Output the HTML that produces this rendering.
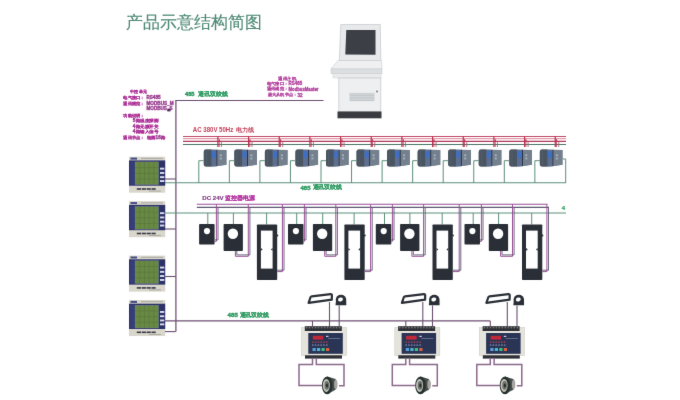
<!DOCTYPE html>
<html><head><meta charset="utf-8"><style>
html,body{margin:0;padding:0;background:#fff;}
body{width:680px;height:400px;overflow:hidden;}
svg{display:block;font-family:"Liberation Sans",sans-serif;}
</style></head><body>
<svg width="680" height="400" viewBox="0 0 680 400">
<defs><filter id="bl" x="0" y="0" width="680" height="400" filterUnits="userSpaceOnUse" color-interpolation-filters="sRGB"><feConvolveMatrix order="3" kernelMatrix="0.00524 0.06192 0.00524 0.06192 0.73137 0.06192 0.00524 0.06192 0.00524" edgeMode="duplicate" preserveAlpha="true"/></filter></defs>
<rect width="680" height="400" fill="#ffffff"/>
<g filter="url(#bl)">
<rect width="680" height="400" fill="#ffffff"/>
<text transform="translate(126.3,28.3) scale(0.8300)" font-size="20" fill="#4f8a76" text-anchor="start" font-weight="normal" textLength="163.37" lengthAdjust="spacingAndGlyphs" stroke="#4f8a76" stroke-width="0.17" >产品示意结构简图</text>
<polygon points="340.8,24.5 380.3,24.5 380.8,60.5 339.3,60.5" fill="#e7e9eb" stroke="#c9cdd0" stroke-width="0.8"/>
<polygon points="346.3,30 375.5,30 375.5,54.8 345.3,54.4" fill="#3d3f47"/>
<polygon points="338,60.5 381.5,60.5 382,69 331,69" fill="#eef0f1" stroke="#c8ccd0" stroke-width="0.6"/>
<rect x="331.00" y="69.00" width="51.00" height="4.80" fill="#dcdfe2" stroke="#c3c7cb" stroke-width="0.5"/>
<rect x="333.00" y="73.80" width="48.00" height="4.20" fill="#e9ebed" stroke="#cdd1d4" stroke-width="0.5"/>
<rect x="338.80" y="78.00" width="42.00" height="33.50" fill="#edeff0" stroke="#c8ccd0" stroke-width="0.8"/>
<rect x="349.00" y="92.80" width="26.00" height="8.40" fill="#dde0e2" />
<line x1="350" y1="94.0" x2="374" y2="94.0" stroke="#b5b9be" stroke-width="0.7" />
<line x1="350" y1="95.6" x2="374" y2="95.6" stroke="#b5b9be" stroke-width="0.7" />
<line x1="350" y1="97.2" x2="374" y2="97.2" stroke="#b5b9be" stroke-width="0.7" />
<line x1="350" y1="98.8" x2="374" y2="98.8" stroke="#b5b9be" stroke-width="0.7" />
<line x1="350" y1="100.4" x2="374" y2="100.4" stroke="#b5b9be" stroke-width="0.7" />
<circle cx="377" cy="91.6" r="1" fill="#7a7e86"/>
<rect x="337.50" y="111.50" width="44.00" height="6.80" fill="#3a3b40" />
<text transform="translate(130.4,93.3) scale(0.2200)" font-size="20" fill="#ac2e96" text-anchor="start" font-weight="bold" textLength="73.64" lengthAdjust="spacingAndGlyphs" stroke="#ac2e96" stroke-width="0.55" >中控单元</text>
<text transform="translate(123.2,99) scale(0.2200)" font-size="20" fill="#ac2e96" text-anchor="start" font-weight="bold" textLength="97.73" lengthAdjust="spacingAndGlyphs" stroke="#ac2e96" stroke-width="0.55" >电气接口：</text>
<text transform="translate(146.5,99.2) scale(0.2450)" font-size="20" fill="#983c8e" text-anchor="start" font-weight="bold" textLength="57.14" lengthAdjust="spacingAndGlyphs" stroke="#983c8e" stroke-width="1.63" >RS485</text>
<text transform="translate(123.2,104.8) scale(0.2200)" font-size="20" fill="#ac2e96" text-anchor="start" font-weight="bold" textLength="97.73" lengthAdjust="spacingAndGlyphs" stroke="#ac2e96" stroke-width="0.55" >通讯规范：</text>
<text transform="translate(146.5,104.9) scale(0.2450)" font-size="20" fill="#983c8e" text-anchor="start" font-weight="bold" textLength="110.20" lengthAdjust="spacingAndGlyphs" stroke="#983c8e" stroke-width="1.63" >MODBUS_M</text>
<text transform="translate(146.5,110.1) scale(0.2450)" font-size="20" fill="#983c8e" text-anchor="start" font-weight="bold" textLength="106.12" lengthAdjust="spacingAndGlyphs" stroke="#983c8e" stroke-width="1.63" >MODBUS_S</text>
<rect x="167.30" y="108.60" width="3.20" height="2.80" fill="#5a2a5e" />
<text transform="translate(123.2,116.7) scale(0.2200)" font-size="20" fill="#ac2e96" text-anchor="start" font-weight="bold" textLength="97.73" lengthAdjust="spacingAndGlyphs" stroke="#ac2e96" stroke-width="0.55" >功能说明：</text>
<text transform="translate(132.8,122.2) scale(0.2450)" font-size="20" fill="#983c8e" text-anchor="start" font-weight="bold" stroke="#983c8e" stroke-width="1.63" >5</text>
<text transform="translate(135.6,122.2) scale(0.2200)" font-size="20" fill="#ac2e96" text-anchor="start" font-weight="bold" textLength="104.55" lengthAdjust="spacingAndGlyphs" stroke="#ac2e96" stroke-width="0.55" >路温度探测</text>
<text transform="translate(132.8,127.5) scale(0.2450)" font-size="20" fill="#983c8e" text-anchor="start" font-weight="bold" stroke="#983c8e" stroke-width="1.63" >4</text>
<text transform="translate(135.6,127.5) scale(0.2200)" font-size="20" fill="#ac2e96" text-anchor="start" font-weight="bold" textLength="104.55" lengthAdjust="spacingAndGlyphs" stroke="#ac2e96" stroke-width="0.55" >路无源开关</text>
<text transform="translate(132.8,133.2) scale(0.2450)" font-size="20" fill="#983c8e" text-anchor="start" font-weight="bold" stroke="#983c8e" stroke-width="1.63" >4</text>
<text transform="translate(135.6,133.2) scale(0.2200)" font-size="20" fill="#ac2e96" text-anchor="start" font-weight="bold" textLength="104.55" lengthAdjust="spacingAndGlyphs" stroke="#ac2e96" stroke-width="0.55" >路输入信号</text>
<text transform="translate(123.2,138.8) scale(0.2200)" font-size="20" fill="#ac2e96" text-anchor="start" font-weight="bold" textLength="97.73" lengthAdjust="spacingAndGlyphs" stroke="#ac2e96" stroke-width="0.55" >通讯节点：</text>
<text transform="translate(146.7,138.8) scale(0.2200)" font-size="20" fill="#ac2e96" text-anchor="start" font-weight="bold" textLength="40.00" lengthAdjust="spacingAndGlyphs" stroke="#ac2e96" stroke-width="0.55" >检测</text>
<text transform="translate(155.6,138.9) scale(0.2450)" font-size="20" fill="#983c8e" text-anchor="start" font-weight="bold" textLength="21.22" lengthAdjust="spacingAndGlyphs" stroke="#983c8e" stroke-width="1.63" >16</text>
<text transform="translate(161.2,138.8) scale(0.2200)" font-size="20" fill="#ac2e96" text-anchor="start" font-weight="bold" textLength="20.45" lengthAdjust="spacingAndGlyphs" stroke="#ac2e96" stroke-width="0.55" >路</text>
<text transform="translate(278,79.7) scale(0.2200)" font-size="20" fill="#b0389a" text-anchor="start" font-weight="bold" textLength="81.82" lengthAdjust="spacingAndGlyphs" stroke="#b0389a" stroke-width="0.14" >通讯主机</text>
<text transform="translate(266.7,85) scale(0.2200)" font-size="20" fill="#b0389a" text-anchor="start" font-weight="bold" textLength="97.73" lengthAdjust="spacingAndGlyphs" stroke="#b0389a" stroke-width="0.14" >电气接口：</text>
<text transform="translate(288.5,85.2) scale(0.2450)" font-size="20" fill="#b0389a" text-anchor="start" font-weight="bold" textLength="55.92" lengthAdjust="spacingAndGlyphs" stroke="#b0389a" stroke-width="1.22" >RS485</text>
<text transform="translate(266.7,90.3) scale(0.2200)" font-size="20" fill="#b0389a" text-anchor="start" font-weight="bold" textLength="97.73" lengthAdjust="spacingAndGlyphs" stroke="#b0389a" stroke-width="0.14" >通讯规范：</text>
<text transform="translate(288.5,90.5) scale(0.2450)" font-size="20" fill="#b0389a" text-anchor="start" font-weight="bold" textLength="122.45" lengthAdjust="spacingAndGlyphs" stroke="#b0389a" stroke-width="1.22" >ModbusMaster</text>
<text transform="translate(267.5,96.3) scale(0.2200)" font-size="20" fill="#b0389a" text-anchor="start" font-weight="bold" textLength="136.36" lengthAdjust="spacingAndGlyphs" stroke="#b0389a" stroke-width="0.14" >最大从机节点：</text>
<text transform="translate(297.5,96.5) scale(0.2450)" font-size="20" fill="#b0389a" text-anchor="start" font-weight="bold" textLength="20.41" lengthAdjust="spacingAndGlyphs" stroke="#b0389a" stroke-width="1.22" >32</text>
<text transform="translate(185,96.4) scale(0.2800)" font-size="20" fill="#2f9a62" text-anchor="start" font-weight="bold" textLength="33.93" lengthAdjust="spacingAndGlyphs" stroke="#2f9a62" stroke-width="1.50" >485</text>
<text transform="translate(197.8,96.1) scale(0.3000)" font-size="20" fill="#2f9a62" text-anchor="start" font-weight="bold" textLength="100.00" lengthAdjust="spacingAndGlyphs" stroke="#2f9a62" stroke-width="0.40" >通讯双绞线</text>
<line x1="175.9" y1="100.5" x2="175.9" y2="331.6" stroke="#6c5072" stroke-width="1.25" />
<line x1="175.3" y1="100.5" x2="323.5" y2="100.5" stroke="#6c5072" stroke-width="1.2" />
<text transform="translate(192.8,132) scale(0.3200)" font-size="20" fill="#c4405a" text-anchor="start" font-weight="bold" textLength="126.56" lengthAdjust="spacingAndGlyphs" >AC 380V 50Hz</text>
<text transform="translate(235.6,131.9) scale(0.3000)" font-size="20" fill="#c4405a" text-anchor="start" font-weight="bold" textLength="61.67" lengthAdjust="spacingAndGlyphs" >电力线</text>
<line x1="183" y1="136.5" x2="566" y2="136.5" stroke="#c04a68" stroke-width="1.0" />
<line x1="183" y1="138.7" x2="566" y2="138.7" stroke="#e29aac" stroke-width="1.2" />
<line x1="183" y1="141.4" x2="566" y2="141.4" stroke="#b0385a" stroke-width="1.1" />
<line x1="183" y1="144.5" x2="566" y2="144.5" stroke="#4a7566" stroke-width="1.0" />
<line x1="217.9" y1="136.3" x2="217.9" y2="147" stroke="#b8304f" stroke-width="1.2" />
<line x1="219.20000000000002" y1="139" x2="219.20000000000002" y2="147" stroke="#b8304f" stroke-width="0.8" />
<line x1="218.9" y1="140" x2="221.4" y2="142.5" stroke="#b8304f" stroke-width="0.8" />
<line x1="221.4" y1="142.5" x2="221.4" y2="147" stroke="#8a6070" stroke-width="0.8" />
<path d="M203.8,151.8 Q203.8,149.6 206.0,149.6 L226.4,149.9 L226.4,164.8 L212.8,166.5 L206.0,166.5 Q203.8,166.5 203.8,164.3 Z" fill="#5f6b78"/>
<path d="M203.8,151.8 Q203.8,149.6 206.0,149.6 L211.60000000000002,149.6 L211.60000000000002,166.5 L206.0,166.5 Q203.8,166.5 203.8,164.3 Z" fill="#4a5561"/>
<line x1="206.4" y1="151" x2="206.4" y2="165.5" stroke="#56616e" stroke-width="0.8" />
<rect x="211.60" y="149.80" width="4.90" height="16.60" fill="#5d6e90" />
<rect x="211.90" y="151.10" width="3.90" height="6.90" fill="#3f6fc4" />
<rect x="216.50" y="149.80" width="1.00" height="16.40" fill="#2b333f" />
<path d="M217.5,149.9 L226.4,149.9 L226.4,164.8 L217.5,166 Z" fill="#74808e"/>
<rect x="219.80" y="154.40" width="2.00" height="1.80" fill="#a9b2bb" />
<rect x="219.80" y="157.60" width="2.00" height="1.80" fill="#a9b2bb" />
<polyline points="203.80,160.70 198.80,160.70 198.80,183.00" fill="none" stroke="#5d8f7b" stroke-width="1"/>
<line x1="248.57" y1="136.3" x2="248.57" y2="147" stroke="#b8304f" stroke-width="1.2" />
<line x1="249.87" y1="139" x2="249.87" y2="147" stroke="#b8304f" stroke-width="0.8" />
<line x1="249.57" y1="140" x2="252.07" y2="142.5" stroke="#b8304f" stroke-width="0.8" />
<line x1="252.07" y1="142.5" x2="252.07" y2="147" stroke="#8a6070" stroke-width="0.8" />
<path d="M234.35000000000002,151.8 Q234.35000000000002,149.6 236.55,149.6 L256.95000000000005,149.9 L256.95000000000005,164.8 L243.35000000000002,166.5 L236.55,166.5 Q234.35000000000002,166.5 234.35000000000002,164.3 Z" fill="#5f6b78"/>
<path d="M234.35000000000002,151.8 Q234.35000000000002,149.6 236.55,149.6 L242.15000000000003,149.6 L242.15000000000003,166.5 L236.55,166.5 Q234.35000000000002,166.5 234.35000000000002,164.3 Z" fill="#4a5561"/>
<line x1="236.95000000000002" y1="151" x2="236.95000000000002" y2="165.5" stroke="#56616e" stroke-width="0.8" />
<rect x="242.15" y="149.80" width="4.90" height="16.60" fill="#5d6e90" />
<rect x="242.45" y="151.10" width="3.90" height="6.90" fill="#3f6fc4" />
<rect x="247.05" y="149.80" width="1.00" height="16.40" fill="#2b333f" />
<path d="M248.05,149.9 L256.95000000000005,149.9 L256.95000000000005,164.8 L248.05,166 Z" fill="#74808e"/>
<rect x="250.35" y="154.40" width="2.00" height="1.80" fill="#a9b2bb" />
<rect x="250.35" y="157.60" width="2.00" height="1.80" fill="#a9b2bb" />
<polyline points="234.35,160.70 229.35,160.70 229.35,183.00" fill="none" stroke="#5d8f7b" stroke-width="1"/>
<line x1="279.24" y1="136.3" x2="279.24" y2="147" stroke="#b8304f" stroke-width="1.2" />
<line x1="280.54" y1="139" x2="280.54" y2="147" stroke="#b8304f" stroke-width="0.8" />
<line x1="280.24" y1="140" x2="282.74" y2="142.5" stroke="#b8304f" stroke-width="0.8" />
<line x1="282.74" y1="142.5" x2="282.74" y2="147" stroke="#8a6070" stroke-width="0.8" />
<path d="M264.90000000000003,151.8 Q264.90000000000003,149.6 267.1,149.6 L287.50000000000006,149.9 L287.50000000000006,164.8 L273.90000000000003,166.5 L267.1,166.5 Q264.90000000000003,166.5 264.90000000000003,164.3 Z" fill="#5f6b78"/>
<path d="M264.90000000000003,151.8 Q264.90000000000003,149.6 267.1,149.6 L272.70000000000005,149.6 L272.70000000000005,166.5 L267.1,166.5 Q264.90000000000003,166.5 264.90000000000003,164.3 Z" fill="#4a5561"/>
<line x1="267.50000000000006" y1="151" x2="267.50000000000006" y2="165.5" stroke="#56616e" stroke-width="0.8" />
<rect x="272.70" y="149.80" width="4.90" height="16.60" fill="#5d6e90" />
<rect x="273.00" y="151.10" width="3.90" height="6.90" fill="#3f6fc4" />
<rect x="277.60" y="149.80" width="1.00" height="16.40" fill="#2b333f" />
<path d="M278.6,149.9 L287.50000000000006,149.9 L287.50000000000006,164.8 L278.6,166 Z" fill="#74808e"/>
<rect x="280.90" y="154.40" width="2.00" height="1.80" fill="#a9b2bb" />
<rect x="280.90" y="157.60" width="2.00" height="1.80" fill="#a9b2bb" />
<polyline points="264.90,160.70 259.90,160.70 259.90,183.00" fill="none" stroke="#5d8f7b" stroke-width="1"/>
<line x1="309.91" y1="136.3" x2="309.91" y2="147" stroke="#b8304f" stroke-width="1.2" />
<line x1="311.21000000000004" y1="139" x2="311.21000000000004" y2="147" stroke="#b8304f" stroke-width="0.8" />
<line x1="310.91" y1="140" x2="313.41" y2="142.5" stroke="#b8304f" stroke-width="0.8" />
<line x1="313.41" y1="142.5" x2="313.41" y2="147" stroke="#8a6070" stroke-width="0.8" />
<path d="M295.45000000000005,151.8 Q295.45000000000005,149.6 297.65000000000003,149.6 L318.05000000000007,149.9 L318.05000000000007,164.8 L304.45000000000005,166.5 L297.65000000000003,166.5 Q295.45000000000005,166.5 295.45000000000005,164.3 Z" fill="#5f6b78"/>
<path d="M295.45000000000005,151.8 Q295.45000000000005,149.6 297.65000000000003,149.6 L303.25000000000006,149.6 L303.25000000000006,166.5 L297.65000000000003,166.5 Q295.45000000000005,166.5 295.45000000000005,164.3 Z" fill="#4a5561"/>
<line x1="298.05000000000007" y1="151" x2="298.05000000000007" y2="165.5" stroke="#56616e" stroke-width="0.8" />
<rect x="303.25" y="149.80" width="4.90" height="16.60" fill="#5d6e90" />
<rect x="303.55" y="151.10" width="3.90" height="6.90" fill="#3f6fc4" />
<rect x="308.15" y="149.80" width="1.00" height="16.40" fill="#2b333f" />
<path d="M309.15000000000003,149.9 L318.05000000000007,149.9 L318.05000000000007,164.8 L309.15000000000003,166 Z" fill="#74808e"/>
<rect x="311.45" y="154.40" width="2.00" height="1.80" fill="#a9b2bb" />
<rect x="311.45" y="157.60" width="2.00" height="1.80" fill="#a9b2bb" />
<polyline points="295.45,160.70 290.45,160.70 290.45,183.00" fill="none" stroke="#5d8f7b" stroke-width="1"/>
<line x1="340.58000000000004" y1="136.3" x2="340.58000000000004" y2="147" stroke="#b8304f" stroke-width="1.2" />
<line x1="341.88000000000005" y1="139" x2="341.88000000000005" y2="147" stroke="#b8304f" stroke-width="0.8" />
<line x1="341.58000000000004" y1="140" x2="344.08000000000004" y2="142.5" stroke="#b8304f" stroke-width="0.8" />
<line x1="344.08000000000004" y1="142.5" x2="344.08000000000004" y2="147" stroke="#8a6070" stroke-width="0.8" />
<path d="M326.0,151.8 Q326.0,149.6 328.2,149.6 L348.6,149.9 L348.6,164.8 L335.0,166.5 L328.2,166.5 Q326.0,166.5 326.0,164.3 Z" fill="#5f6b78"/>
<path d="M326.0,151.8 Q326.0,149.6 328.2,149.6 L333.8,149.6 L333.8,166.5 L328.2,166.5 Q326.0,166.5 326.0,164.3 Z" fill="#4a5561"/>
<line x1="328.6" y1="151" x2="328.6" y2="165.5" stroke="#56616e" stroke-width="0.8" />
<rect x="333.80" y="149.80" width="4.90" height="16.60" fill="#5d6e90" />
<rect x="334.10" y="151.10" width="3.90" height="6.90" fill="#3f6fc4" />
<rect x="338.70" y="149.80" width="1.00" height="16.40" fill="#2b333f" />
<path d="M339.7,149.9 L348.6,149.9 L348.6,164.8 L339.7,166 Z" fill="#74808e"/>
<rect x="342.00" y="154.40" width="2.00" height="1.80" fill="#a9b2bb" />
<rect x="342.00" y="157.60" width="2.00" height="1.80" fill="#a9b2bb" />
<polyline points="326.00,160.70 321.00,160.70 321.00,183.00" fill="none" stroke="#5d8f7b" stroke-width="1"/>
<line x1="371.25" y1="136.3" x2="371.25" y2="147" stroke="#b8304f" stroke-width="1.2" />
<line x1="372.55" y1="139" x2="372.55" y2="147" stroke="#b8304f" stroke-width="0.8" />
<line x1="372.25" y1="140" x2="374.75" y2="142.5" stroke="#b8304f" stroke-width="0.8" />
<line x1="374.75" y1="142.5" x2="374.75" y2="147" stroke="#8a6070" stroke-width="0.8" />
<path d="M356.55,151.8 Q356.55,149.6 358.75,149.6 L379.15000000000003,149.9 L379.15000000000003,164.8 L365.55,166.5 L358.75,166.5 Q356.55,166.5 356.55,164.3 Z" fill="#5f6b78"/>
<path d="M356.55,151.8 Q356.55,149.6 358.75,149.6 L364.35,149.6 L364.35,166.5 L358.75,166.5 Q356.55,166.5 356.55,164.3 Z" fill="#4a5561"/>
<line x1="359.15000000000003" y1="151" x2="359.15000000000003" y2="165.5" stroke="#56616e" stroke-width="0.8" />
<rect x="364.35" y="149.80" width="4.90" height="16.60" fill="#5d6e90" />
<rect x="364.65" y="151.10" width="3.90" height="6.90" fill="#3f6fc4" />
<rect x="369.25" y="149.80" width="1.00" height="16.40" fill="#2b333f" />
<path d="M370.25,149.9 L379.15000000000003,149.9 L379.15000000000003,164.8 L370.25,166 Z" fill="#74808e"/>
<rect x="372.55" y="154.40" width="2.00" height="1.80" fill="#a9b2bb" />
<rect x="372.55" y="157.60" width="2.00" height="1.80" fill="#a9b2bb" />
<polyline points="356.55,160.70 351.55,160.70 351.55,183.00" fill="none" stroke="#5d8f7b" stroke-width="1"/>
<line x1="401.92" y1="136.3" x2="401.92" y2="147" stroke="#b8304f" stroke-width="1.2" />
<line x1="403.22" y1="139" x2="403.22" y2="147" stroke="#b8304f" stroke-width="0.8" />
<line x1="402.92" y1="140" x2="405.42" y2="142.5" stroke="#b8304f" stroke-width="0.8" />
<line x1="405.42" y1="142.5" x2="405.42" y2="147" stroke="#8a6070" stroke-width="0.8" />
<path d="M387.1,151.8 Q387.1,149.6 389.3,149.6 L409.70000000000005,149.9 L409.70000000000005,164.8 L396.1,166.5 L389.3,166.5 Q387.1,166.5 387.1,164.3 Z" fill="#5f6b78"/>
<path d="M387.1,151.8 Q387.1,149.6 389.3,149.6 L394.90000000000003,149.6 L394.90000000000003,166.5 L389.3,166.5 Q387.1,166.5 387.1,164.3 Z" fill="#4a5561"/>
<line x1="389.70000000000005" y1="151" x2="389.70000000000005" y2="165.5" stroke="#56616e" stroke-width="0.8" />
<rect x="394.90" y="149.80" width="4.90" height="16.60" fill="#5d6e90" />
<rect x="395.20" y="151.10" width="3.90" height="6.90" fill="#3f6fc4" />
<rect x="399.80" y="149.80" width="1.00" height="16.40" fill="#2b333f" />
<path d="M400.8,149.9 L409.70000000000005,149.9 L409.70000000000005,164.8 L400.8,166 Z" fill="#74808e"/>
<rect x="403.10" y="154.40" width="2.00" height="1.80" fill="#a9b2bb" />
<rect x="403.10" y="157.60" width="2.00" height="1.80" fill="#a9b2bb" />
<polyline points="387.10,160.70 382.10,160.70 382.10,183.00" fill="none" stroke="#5d8f7b" stroke-width="1"/>
<line x1="432.59000000000003" y1="136.3" x2="432.59000000000003" y2="147" stroke="#b8304f" stroke-width="1.2" />
<line x1="433.89000000000004" y1="139" x2="433.89000000000004" y2="147" stroke="#b8304f" stroke-width="0.8" />
<line x1="433.59000000000003" y1="140" x2="436.09000000000003" y2="142.5" stroke="#b8304f" stroke-width="0.8" />
<line x1="436.09000000000003" y1="142.5" x2="436.09000000000003" y2="147" stroke="#8a6070" stroke-width="0.8" />
<path d="M417.65,151.8 Q417.65,149.6 419.84999999999997,149.6 L440.25,149.9 L440.25,164.8 L426.65,166.5 L419.84999999999997,166.5 Q417.65,166.5 417.65,164.3 Z" fill="#5f6b78"/>
<path d="M417.65,151.8 Q417.65,149.6 419.84999999999997,149.6 L425.45,149.6 L425.45,166.5 L419.84999999999997,166.5 Q417.65,166.5 417.65,164.3 Z" fill="#4a5561"/>
<line x1="420.25" y1="151" x2="420.25" y2="165.5" stroke="#56616e" stroke-width="0.8" />
<rect x="425.45" y="149.80" width="4.90" height="16.60" fill="#5d6e90" />
<rect x="425.75" y="151.10" width="3.90" height="6.90" fill="#3f6fc4" />
<rect x="430.35" y="149.80" width="1.00" height="16.40" fill="#2b333f" />
<path d="M431.34999999999997,149.9 L440.25,149.9 L440.25,164.8 L431.34999999999997,166 Z" fill="#74808e"/>
<rect x="433.65" y="154.40" width="2.00" height="1.80" fill="#a9b2bb" />
<rect x="433.65" y="157.60" width="2.00" height="1.80" fill="#a9b2bb" />
<polyline points="417.65,160.70 412.65,160.70 412.65,183.00" fill="none" stroke="#5d8f7b" stroke-width="1"/>
<line x1="463.26" y1="136.3" x2="463.26" y2="147" stroke="#b8304f" stroke-width="1.2" />
<line x1="464.56" y1="139" x2="464.56" y2="147" stroke="#b8304f" stroke-width="0.8" />
<line x1="464.26" y1="140" x2="466.76" y2="142.5" stroke="#b8304f" stroke-width="0.8" />
<line x1="466.76" y1="142.5" x2="466.76" y2="147" stroke="#8a6070" stroke-width="0.8" />
<path d="M448.20000000000005,151.8 Q448.20000000000005,149.6 450.40000000000003,149.6 L470.80000000000007,149.9 L470.80000000000007,164.8 L457.20000000000005,166.5 L450.40000000000003,166.5 Q448.20000000000005,166.5 448.20000000000005,164.3 Z" fill="#5f6b78"/>
<path d="M448.20000000000005,151.8 Q448.20000000000005,149.6 450.40000000000003,149.6 L456.00000000000006,149.6 L456.00000000000006,166.5 L450.40000000000003,166.5 Q448.20000000000005,166.5 448.20000000000005,164.3 Z" fill="#4a5561"/>
<line x1="450.80000000000007" y1="151" x2="450.80000000000007" y2="165.5" stroke="#56616e" stroke-width="0.8" />
<rect x="456.00" y="149.80" width="4.90" height="16.60" fill="#5d6e90" />
<rect x="456.30" y="151.10" width="3.90" height="6.90" fill="#3f6fc4" />
<rect x="460.90" y="149.80" width="1.00" height="16.40" fill="#2b333f" />
<path d="M461.90000000000003,149.9 L470.80000000000007,149.9 L470.80000000000007,164.8 L461.90000000000003,166 Z" fill="#74808e"/>
<rect x="464.20" y="154.40" width="2.00" height="1.80" fill="#a9b2bb" />
<rect x="464.20" y="157.60" width="2.00" height="1.80" fill="#a9b2bb" />
<polyline points="448.20,160.70 443.20,160.70 443.20,183.00" fill="none" stroke="#5d8f7b" stroke-width="1"/>
<line x1="493.93000000000006" y1="136.3" x2="493.93000000000006" y2="147" stroke="#b8304f" stroke-width="1.2" />
<line x1="495.2300000000001" y1="139" x2="495.2300000000001" y2="147" stroke="#b8304f" stroke-width="0.8" />
<line x1="494.93000000000006" y1="140" x2="497.43000000000006" y2="142.5" stroke="#b8304f" stroke-width="0.8" />
<line x1="497.43000000000006" y1="142.5" x2="497.43000000000006" y2="147" stroke="#8a6070" stroke-width="0.8" />
<path d="M478.75,151.8 Q478.75,149.6 480.95,149.6 L501.35,149.9 L501.35,164.8 L487.75,166.5 L480.95,166.5 Q478.75,166.5 478.75,164.3 Z" fill="#5f6b78"/>
<path d="M478.75,151.8 Q478.75,149.6 480.95,149.6 L486.55,149.6 L486.55,166.5 L480.95,166.5 Q478.75,166.5 478.75,164.3 Z" fill="#4a5561"/>
<line x1="481.35" y1="151" x2="481.35" y2="165.5" stroke="#56616e" stroke-width="0.8" />
<rect x="486.55" y="149.80" width="4.90" height="16.60" fill="#5d6e90" />
<rect x="486.85" y="151.10" width="3.90" height="6.90" fill="#3f6fc4" />
<rect x="491.45" y="149.80" width="1.00" height="16.40" fill="#2b333f" />
<path d="M492.45,149.9 L501.35,149.9 L501.35,164.8 L492.45,166 Z" fill="#74808e"/>
<rect x="494.75" y="154.40" width="2.00" height="1.80" fill="#a9b2bb" />
<rect x="494.75" y="157.60" width="2.00" height="1.80" fill="#a9b2bb" />
<polyline points="478.75,160.70 473.75,160.70 473.75,183.00" fill="none" stroke="#5d8f7b" stroke-width="1"/>
<line x1="524.6" y1="136.3" x2="524.6" y2="147" stroke="#b8304f" stroke-width="1.2" />
<line x1="525.9" y1="139" x2="525.9" y2="147" stroke="#b8304f" stroke-width="0.8" />
<line x1="525.6" y1="140" x2="528.1" y2="142.5" stroke="#b8304f" stroke-width="0.8" />
<line x1="528.1" y1="142.5" x2="528.1" y2="147" stroke="#8a6070" stroke-width="0.8" />
<path d="M509.3,151.8 Q509.3,149.6 511.5,149.6 L531.9,149.9 L531.9,164.8 L518.3,166.5 L511.5,166.5 Q509.3,166.5 509.3,164.3 Z" fill="#5f6b78"/>
<path d="M509.3,151.8 Q509.3,149.6 511.5,149.6 L517.1,149.6 L517.1,166.5 L511.5,166.5 Q509.3,166.5 509.3,164.3 Z" fill="#4a5561"/>
<line x1="511.90000000000003" y1="151" x2="511.90000000000003" y2="165.5" stroke="#56616e" stroke-width="0.8" />
<rect x="517.10" y="149.80" width="4.90" height="16.60" fill="#5d6e90" />
<rect x="517.40" y="151.10" width="3.90" height="6.90" fill="#3f6fc4" />
<rect x="522.00" y="149.80" width="1.00" height="16.40" fill="#2b333f" />
<path d="M523.0,149.9 L531.9,149.9 L531.9,164.8 L523.0,166 Z" fill="#74808e"/>
<rect x="525.30" y="154.40" width="2.00" height="1.80" fill="#a9b2bb" />
<rect x="525.30" y="157.60" width="2.00" height="1.80" fill="#a9b2bb" />
<polyline points="509.30,160.70 504.30,160.70 504.30,183.00" fill="none" stroke="#5d8f7b" stroke-width="1"/>
<line x1="555.27" y1="136.3" x2="555.27" y2="147" stroke="#b8304f" stroke-width="1.2" />
<line x1="556.5699999999999" y1="139" x2="556.5699999999999" y2="147" stroke="#b8304f" stroke-width="0.8" />
<line x1="556.27" y1="140" x2="558.77" y2="142.5" stroke="#b8304f" stroke-width="0.8" />
<line x1="558.77" y1="142.5" x2="558.77" y2="147" stroke="#8a6070" stroke-width="0.8" />
<path d="M539.85,151.8 Q539.85,149.6 542.0500000000001,149.6 L562.45,149.9 L562.45,164.8 L548.85,166.5 L542.0500000000001,166.5 Q539.85,166.5 539.85,164.3 Z" fill="#5f6b78"/>
<path d="M539.85,151.8 Q539.85,149.6 542.0500000000001,149.6 L547.65,149.6 L547.65,166.5 L542.0500000000001,166.5 Q539.85,166.5 539.85,164.3 Z" fill="#4a5561"/>
<line x1="542.45" y1="151" x2="542.45" y2="165.5" stroke="#56616e" stroke-width="0.8" />
<rect x="547.65" y="149.80" width="4.90" height="16.60" fill="#5d6e90" />
<rect x="547.95" y="151.10" width="3.90" height="6.90" fill="#3f6fc4" />
<rect x="552.55" y="149.80" width="1.00" height="16.40" fill="#2b333f" />
<path d="M553.5500000000001,149.9 L562.45,149.9 L562.45,164.8 L553.5500000000001,166 Z" fill="#74808e"/>
<rect x="555.85" y="154.40" width="2.00" height="1.80" fill="#a9b2bb" />
<rect x="555.85" y="157.60" width="2.00" height="1.80" fill="#a9b2bb" />
<polyline points="539.85,160.70 534.85,160.70 534.85,183.00" fill="none" stroke="#5d8f7b" stroke-width="1"/>
<line x1="165" y1="182.8" x2="566" y2="182.8" stroke="#5d8f7b" stroke-width="1.1" />
<polyline points="562.50,159.00 565.70,159.00 565.70,183.00" fill="none" stroke="#5d8f7b" stroke-width="1"/>
<text transform="translate(300.6,189.5) scale(0.2800)" font-size="20" fill="#2f9a62" text-anchor="start" font-weight="bold" textLength="35.00" lengthAdjust="spacingAndGlyphs" stroke="#2f9a62" stroke-width="1.50" >485</text>
<text transform="translate(312.5,189.2) scale(0.3000)" font-size="20" fill="#2f9a62" text-anchor="start" font-weight="bold" textLength="99.33" lengthAdjust="spacingAndGlyphs" stroke="#2f9a62" stroke-width="0.40" >通讯双绞线</text>
<text transform="translate(202.2,200.2) scale(0.2950)" font-size="20" fill="#7f3a80" text-anchor="start" font-weight="bold" textLength="72.88" lengthAdjust="spacingAndGlyphs" stroke="#7f3a80" stroke-width="0.51" >DC 24V</text>
<text transform="translate(224.9,200.2) scale(0.3000)" font-size="20" fill="#b02a9c" text-anchor="start" font-weight="bold" textLength="101.00" lengthAdjust="spacingAndGlyphs" stroke="#b02a9c" stroke-width="0.07" >监控器电源</text>
<line x1="196.8" y1="204.3" x2="547.5" y2="204.3" stroke="#9b4f98" stroke-width="1.1" />
<line x1="196.8" y1="207.4" x2="549" y2="207.4" stroke="#5e5a72" stroke-width="1.2" />
<line x1="165" y1="213" x2="566" y2="213" stroke="#5d8f7b" stroke-width="1.1" />
<text transform="translate(561.8,210.2) scale(0.3000)" font-size="20" fill="#2f9a62" text-anchor="start" font-weight="bold" stroke="#2f9a62" stroke-width="0.67" >4</text>
<line x1="207.79999999999998" y1="213" x2="207.79999999999998" y2="224" stroke="#5d8f7b" stroke-width="1" />
<line x1="233.4" y1="213" x2="233.4" y2="224" stroke="#5d8f7b" stroke-width="1" />
<line x1="266.59999999999997" y1="213" x2="266.59999999999997" y2="224.5" stroke="#5d8f7b" stroke-width="1" />
<rect x="199.10" y="224.00" width="15.50" height="20.50" fill="#2a2f37" rx="0.8"/>
<circle cx="207.0" cy="231.1" r="3.1" fill="#ffffff"/>
<rect x="223.60" y="224.00" width="19.30" height="27.00" fill="#2a2f37" rx="0.8"/>
<circle cx="232.9" cy="233.8" r="5.2" fill="#ffffff"/>
<rect x="256.90" y="224.50" width="20.30" height="55.50" fill="#2a2f37" rx="0.8"/>
<rect x="260.90" y="230.60" width="11.70" height="38.00" fill="#ffffff" />
<path d="M260.9,248 L262.7,249.4 L260.9,250.8 Z M272.59999999999997,248 L270.79999999999995,249.4 L272.59999999999997,250.8 Z" fill="#2a2f37"/>
<circle cx="277.4" cy="235.5" r="0.9" fill="#2a2f37"/>
<polyline points="216.40,204.30 216.40,241.30 214.60,241.30" fill="none" stroke="#9b4f98" stroke-width="1"/>
<polyline points="218.00,207.40 218.00,239.90 214.60,239.90" fill="none" stroke="#5e5a72" stroke-width="0.9"/>
<polyline points="248.30,204.30 248.30,256.30 235.40,256.30 235.40,251.00" fill="none" stroke="#9b4f98" stroke-width="1"/>
<polyline points="249.90,207.40 249.90,254.90 236.80,254.90 236.80,251.00" fill="none" stroke="#5e5a72" stroke-width="0.9"/>
<polyline points="282.40,204.30 282.40,271.60 277.20,271.60" fill="none" stroke="#9b4f98" stroke-width="1"/>
<polyline points="284.00,207.40 284.00,270.20 277.20,270.20" fill="none" stroke="#5e5a72" stroke-width="0.9"/>
<line x1="296.7" y1="213" x2="296.7" y2="224" stroke="#5d8f7b" stroke-width="1" />
<line x1="322.7" y1="213" x2="322.7" y2="224" stroke="#5d8f7b" stroke-width="1" />
<line x1="354.09999999999997" y1="213" x2="354.09999999999997" y2="224.5" stroke="#5d8f7b" stroke-width="1" />
<rect x="288.00" y="224.00" width="15.50" height="20.50" fill="#2a2f37" rx="0.8"/>
<circle cx="295.9" cy="231.1" r="3.1" fill="#ffffff"/>
<rect x="312.90" y="224.00" width="19.30" height="27.00" fill="#2a2f37" rx="0.8"/>
<circle cx="322.2" cy="233.8" r="5.2" fill="#ffffff"/>
<rect x="344.40" y="224.50" width="20.30" height="55.50" fill="#2a2f37" rx="0.8"/>
<rect x="348.40" y="230.60" width="11.70" height="38.00" fill="#ffffff" />
<path d="M348.4,248 L350.2,249.4 L348.4,250.8 Z M360.09999999999997,248 L358.29999999999995,249.4 L360.09999999999997,250.8 Z" fill="#2a2f37"/>
<circle cx="364.9" cy="235.5" r="0.9" fill="#2a2f37"/>
<polyline points="304.40,204.30 304.40,241.30 303.50,241.30" fill="none" stroke="#9b4f98" stroke-width="1"/>
<polyline points="306.00,207.40 306.00,239.90 303.50,239.90" fill="none" stroke="#5e5a72" stroke-width="0.9"/>
<polyline points="335.80,204.30 335.80,256.30 324.70,256.30 324.70,251.00" fill="none" stroke="#9b4f98" stroke-width="1"/>
<polyline points="337.40,207.40 337.40,254.90 326.10,254.90 326.10,251.00" fill="none" stroke="#5e5a72" stroke-width="0.9"/>
<polyline points="370.60,204.30 370.60,271.60 364.70,271.60" fill="none" stroke="#9b4f98" stroke-width="1"/>
<polyline points="372.20,207.40 372.20,270.20 364.70,270.20" fill="none" stroke="#5e5a72" stroke-width="0.9"/>
<line x1="384.5" y1="213" x2="384.5" y2="224" stroke="#5d8f7b" stroke-width="1" />
<line x1="409.90000000000003" y1="213" x2="409.90000000000003" y2="224" stroke="#5d8f7b" stroke-width="1" />
<line x1="442.2" y1="213" x2="442.2" y2="224.5" stroke="#5d8f7b" stroke-width="1" />
<rect x="375.80" y="224.00" width="15.50" height="20.50" fill="#2a2f37" rx="0.8"/>
<circle cx="383.7" cy="231.1" r="3.1" fill="#ffffff"/>
<rect x="400.10" y="224.00" width="19.30" height="27.00" fill="#2a2f37" rx="0.8"/>
<circle cx="409.40000000000003" cy="233.8" r="5.2" fill="#ffffff"/>
<rect x="432.50" y="224.50" width="20.30" height="55.50" fill="#2a2f37" rx="0.8"/>
<rect x="436.50" y="230.60" width="11.70" height="38.00" fill="#ffffff" />
<path d="M436.5,248 L438.3,249.4 L436.5,250.8 Z M448.2,248 L446.4,249.4 L448.2,250.8 Z" fill="#2a2f37"/>
<circle cx="453.0" cy="235.5" r="0.9" fill="#2a2f37"/>
<polyline points="392.40,204.30 392.40,241.30 391.30,241.30" fill="none" stroke="#9b4f98" stroke-width="1"/>
<polyline points="394.00,207.40 394.00,239.90 391.30,239.90" fill="none" stroke="#5e5a72" stroke-width="0.9"/>
<polyline points="423.60,204.30 423.60,256.30 411.90,256.30 411.90,251.00" fill="none" stroke="#9b4f98" stroke-width="1"/>
<polyline points="425.20,207.40 425.20,254.90 413.30,254.90 413.30,251.00" fill="none" stroke="#5e5a72" stroke-width="0.9"/>
<polyline points="459.20,204.30 459.20,271.60 452.80,271.60" fill="none" stroke="#9b4f98" stroke-width="1"/>
<polyline points="460.80,207.40 460.80,270.20 452.80,270.20" fill="none" stroke="#5e5a72" stroke-width="0.9"/>
<line x1="473.2" y1="213" x2="473.2" y2="224" stroke="#5d8f7b" stroke-width="1" />
<line x1="498.6" y1="213" x2="498.6" y2="224" stroke="#5d8f7b" stroke-width="1" />
<line x1="531.7" y1="213" x2="531.7" y2="224.5" stroke="#5d8f7b" stroke-width="1" />
<rect x="464.50" y="224.00" width="15.50" height="20.50" fill="#2a2f37" rx="0.8"/>
<circle cx="472.4" cy="231.1" r="3.1" fill="#ffffff"/>
<rect x="488.80" y="224.00" width="19.30" height="27.00" fill="#2a2f37" rx="0.8"/>
<circle cx="498.1" cy="233.8" r="5.2" fill="#ffffff"/>
<rect x="522.00" y="224.50" width="20.30" height="55.50" fill="#2a2f37" rx="0.8"/>
<rect x="526.00" y="230.60" width="11.70" height="38.00" fill="#ffffff" />
<path d="M526.0,248 L527.8,249.4 L526.0,250.8 Z M537.7,248 L535.9,249.4 L537.7,250.8 Z" fill="#2a2f37"/>
<circle cx="542.5" cy="235.5" r="0.9" fill="#2a2f37"/>
<polyline points="481.40,204.30 481.40,241.30 480.00,241.30" fill="none" stroke="#9b4f98" stroke-width="1"/>
<polyline points="483.00,207.40 483.00,239.90 480.00,239.90" fill="none" stroke="#5e5a72" stroke-width="0.9"/>
<polyline points="512.50,204.30 512.50,256.30 500.60,256.30 500.60,251.00" fill="none" stroke="#9b4f98" stroke-width="1"/>
<polyline points="514.10,207.40 514.10,254.90 502.00,254.90 502.00,251.00" fill="none" stroke="#5e5a72" stroke-width="0.9"/>
<polyline points="546.90,204.30 546.90,271.60 542.30,271.60" fill="none" stroke="#9b4f98" stroke-width="1"/>
<polyline points="548.50,207.40 548.50,270.20 542.30,270.20" fill="none" stroke="#5e5a72" stroke-width="0.9"/>
<rect x="129.00" y="156.70" width="36.20" height="36.00" fill="#d9d6cc" />
<rect x="129.00" y="160.40" width="36.20" height="25.30" fill="#2d3368" />
<rect x="135.00" y="161.90" width="23.60" height="22.80" fill="#688944" stroke="#7a82b0" stroke-width="0.4"/>
<line x1="139.7" y1="161.89999999999998" x2="139.7" y2="184.7" stroke="#55733a" stroke-width="0.5" />
<line x1="144.4" y1="161.89999999999998" x2="144.4" y2="184.7" stroke="#55733a" stroke-width="0.5" />
<line x1="149.1" y1="161.89999999999998" x2="149.1" y2="184.7" stroke="#55733a" stroke-width="0.5" />
<line x1="153.8" y1="161.89999999999998" x2="153.8" y2="184.7" stroke="#55733a" stroke-width="0.5" />
<line x1="135" y1="167.59999999999997" x2="158.6" y2="167.59999999999997" stroke="#55733a" stroke-width="0.5" />
<line x1="135" y1="173.29999999999998" x2="158.6" y2="173.29999999999998" stroke="#55733a" stroke-width="0.5" />
<line x1="135" y1="178.99999999999997" x2="158.6" y2="178.99999999999997" stroke="#55733a" stroke-width="0.5" />
<rect x="130.00" y="161.70" width="4.00" height="23.00" fill="#363e7a" />
<rect x="160.00" y="167.70" width="4.30" height="1.90" fill="#dcdcf0" />
<rect x="160.00" y="172.00" width="4.30" height="1.90" fill="#dcdcf0" />
<rect x="160.00" y="176.20" width="4.30" height="1.90" fill="#dcdcf0" />
<rect x="160.00" y="180.10" width="4.30" height="1.90" fill="#dcdcf0" />
<rect x="130.50" y="157.60" width="6.50" height="2.00" fill="#434a80" />
<rect x="141.00" y="157.90" width="22.00" height="1.00" fill="#a8a8a0" />
<rect x="136.80" y="188.20" width="4.20" height="1.60" fill="#3a3a48" />
<rect x="141.70" y="188.20" width="4.20" height="1.60" fill="#3a3a48" />
<rect x="146.60" y="188.20" width="4.20" height="1.60" fill="#3a3a48" />
<rect x="151.50" y="188.20" width="4.20" height="1.60" fill="#3a3a48" />
<rect x="149.00" y="190.70" width="12.00" height="0.70" fill="#9a9a90" />
<rect x="129.00" y="201.20" width="36.20" height="36.00" fill="#d9d6cc" />
<rect x="129.00" y="204.90" width="36.20" height="25.30" fill="#2d3368" />
<rect x="135.00" y="206.40" width="23.60" height="22.80" fill="#688944" stroke="#7a82b0" stroke-width="0.4"/>
<line x1="139.7" y1="206.39999999999998" x2="139.7" y2="229.2" stroke="#55733a" stroke-width="0.5" />
<line x1="144.4" y1="206.39999999999998" x2="144.4" y2="229.2" stroke="#55733a" stroke-width="0.5" />
<line x1="149.1" y1="206.39999999999998" x2="149.1" y2="229.2" stroke="#55733a" stroke-width="0.5" />
<line x1="153.8" y1="206.39999999999998" x2="153.8" y2="229.2" stroke="#55733a" stroke-width="0.5" />
<line x1="135" y1="212.09999999999997" x2="158.6" y2="212.09999999999997" stroke="#55733a" stroke-width="0.5" />
<line x1="135" y1="217.79999999999998" x2="158.6" y2="217.79999999999998" stroke="#55733a" stroke-width="0.5" />
<line x1="135" y1="223.49999999999997" x2="158.6" y2="223.49999999999997" stroke="#55733a" stroke-width="0.5" />
<rect x="130.00" y="206.20" width="4.00" height="23.00" fill="#363e7a" />
<rect x="160.00" y="212.20" width="4.30" height="1.90" fill="#dcdcf0" />
<rect x="160.00" y="216.50" width="4.30" height="1.90" fill="#dcdcf0" />
<rect x="160.00" y="220.70" width="4.30" height="1.90" fill="#dcdcf0" />
<rect x="160.00" y="224.60" width="4.30" height="1.90" fill="#dcdcf0" />
<rect x="130.50" y="202.10" width="6.50" height="2.00" fill="#434a80" />
<rect x="141.00" y="202.40" width="22.00" height="1.00" fill="#a8a8a0" />
<rect x="136.80" y="232.70" width="4.20" height="1.60" fill="#3a3a48" />
<rect x="141.70" y="232.70" width="4.20" height="1.60" fill="#3a3a48" />
<rect x="146.60" y="232.70" width="4.20" height="1.60" fill="#3a3a48" />
<rect x="151.50" y="232.70" width="4.20" height="1.60" fill="#3a3a48" />
<rect x="149.00" y="235.20" width="12.00" height="0.70" fill="#9a9a90" />
<rect x="129.00" y="255.60" width="36.20" height="36.00" fill="#d9d6cc" />
<rect x="129.00" y="259.30" width="36.20" height="25.30" fill="#2d3368" />
<rect x="135.00" y="260.80" width="23.60" height="22.80" fill="#688944" stroke="#7a82b0" stroke-width="0.4"/>
<line x1="139.7" y1="260.8" x2="139.7" y2="283.6" stroke="#55733a" stroke-width="0.5" />
<line x1="144.4" y1="260.8" x2="144.4" y2="283.6" stroke="#55733a" stroke-width="0.5" />
<line x1="149.1" y1="260.8" x2="149.1" y2="283.6" stroke="#55733a" stroke-width="0.5" />
<line x1="153.8" y1="260.8" x2="153.8" y2="283.6" stroke="#55733a" stroke-width="0.5" />
<line x1="135" y1="266.5" x2="158.6" y2="266.5" stroke="#55733a" stroke-width="0.5" />
<line x1="135" y1="272.2" x2="158.6" y2="272.2" stroke="#55733a" stroke-width="0.5" />
<line x1="135" y1="277.90000000000003" x2="158.6" y2="277.90000000000003" stroke="#55733a" stroke-width="0.5" />
<rect x="130.00" y="260.60" width="4.00" height="23.00" fill="#363e7a" />
<rect x="160.00" y="266.60" width="4.30" height="1.90" fill="#dcdcf0" />
<rect x="160.00" y="270.90" width="4.30" height="1.90" fill="#dcdcf0" />
<rect x="160.00" y="275.10" width="4.30" height="1.90" fill="#dcdcf0" />
<rect x="160.00" y="279.00" width="4.30" height="1.90" fill="#dcdcf0" />
<rect x="130.50" y="256.50" width="6.50" height="2.00" fill="#434a80" />
<rect x="141.00" y="256.80" width="22.00" height="1.00" fill="#a8a8a0" />
<rect x="136.80" y="287.10" width="4.20" height="1.60" fill="#3a3a48" />
<rect x="141.70" y="287.10" width="4.20" height="1.60" fill="#3a3a48" />
<rect x="146.60" y="287.10" width="4.20" height="1.60" fill="#3a3a48" />
<rect x="151.50" y="287.10" width="4.20" height="1.60" fill="#3a3a48" />
<rect x="149.00" y="289.60" width="12.00" height="0.70" fill="#9a9a90" />
<rect x="129.00" y="300.00" width="36.20" height="36.00" fill="#d9d6cc" />
<rect x="129.00" y="303.70" width="36.20" height="25.30" fill="#2d3368" />
<rect x="135.00" y="305.20" width="23.60" height="22.80" fill="#688944" stroke="#7a82b0" stroke-width="0.4"/>
<line x1="139.7" y1="305.2" x2="139.7" y2="328" stroke="#55733a" stroke-width="0.5" />
<line x1="144.4" y1="305.2" x2="144.4" y2="328" stroke="#55733a" stroke-width="0.5" />
<line x1="149.1" y1="305.2" x2="149.1" y2="328" stroke="#55733a" stroke-width="0.5" />
<line x1="153.8" y1="305.2" x2="153.8" y2="328" stroke="#55733a" stroke-width="0.5" />
<line x1="135" y1="310.9" x2="158.6" y2="310.9" stroke="#55733a" stroke-width="0.5" />
<line x1="135" y1="316.59999999999997" x2="158.6" y2="316.59999999999997" stroke="#55733a" stroke-width="0.5" />
<line x1="135" y1="322.3" x2="158.6" y2="322.3" stroke="#55733a" stroke-width="0.5" />
<rect x="130.00" y="305.00" width="4.00" height="23.00" fill="#363e7a" />
<rect x="160.00" y="311.00" width="4.30" height="1.90" fill="#dcdcf0" />
<rect x="160.00" y="315.30" width="4.30" height="1.90" fill="#dcdcf0" />
<rect x="160.00" y="319.50" width="4.30" height="1.90" fill="#dcdcf0" />
<rect x="160.00" y="323.40" width="4.30" height="1.90" fill="#dcdcf0" />
<rect x="130.50" y="300.90" width="6.50" height="2.00" fill="#434a80" />
<rect x="141.00" y="301.20" width="22.00" height="1.00" fill="#a8a8a0" />
<rect x="136.80" y="331.50" width="4.20" height="1.60" fill="#3a3a48" />
<rect x="141.70" y="331.50" width="4.20" height="1.60" fill="#3a3a48" />
<rect x="146.60" y="331.50" width="4.20" height="1.60" fill="#3a3a48" />
<rect x="151.50" y="331.50" width="4.20" height="1.60" fill="#3a3a48" />
<rect x="149.00" y="334.00" width="12.00" height="0.70" fill="#9a9a90" />
<line x1="165" y1="179" x2="175.8" y2="179" stroke="#6c5072" stroke-width="1.1" />
<line x1="165" y1="229" x2="175.8" y2="229" stroke="#6c5072" stroke-width="1.1" />
<line x1="165" y1="276.5" x2="175.8" y2="276.5" stroke="#6c5072" stroke-width="1.1" />
<line x1="165" y1="331.6" x2="175.8" y2="331.6" stroke="#6c5072" stroke-width="1.1" />
<line x1="165" y1="320.9" x2="490.3" y2="320.9" stroke="#6c5072" stroke-width="1.2" />
<text transform="translate(227.5,317.3) scale(0.2800)" font-size="20" fill="#2f9a62" text-anchor="start" font-weight="bold" textLength="37.14" lengthAdjust="spacingAndGlyphs" stroke="#2f9a62" stroke-width="1.50" >485</text>
<text transform="translate(239.5,317.2) scale(0.3000)" font-size="20" fill="#2f9a62" text-anchor="start" font-weight="bold" textLength="99.00" lengthAdjust="spacingAndGlyphs" stroke="#2f9a62" stroke-width="0.40" >通讯双绞线</text>
<line x1="312.5" y1="320.9" x2="312.5" y2="326.5" stroke="#6c5072" stroke-width="1.1" />
<line x1="329.5" y1="302" x2="329.5" y2="326.5" stroke="#6c5072" stroke-width="1.1" />
<line x1="339.2" y1="305.5" x2="339.2" y2="326.5" stroke="#6c5072" stroke-width="1.1" />
<path d="M308.6,302.9 L310.6,297 Q311,296.4 311.8,296.3 L330.6,294.1 Q331.8,294 331.9,295.2 L331.8,299.6 L308.6,302.9 Z" fill="#ffffff" stroke="#2a2f37" stroke-width="2.2" stroke-linejoin="round"/>
<ellipse cx="341" cy="299.8" rx="5.3" ry="5.1" fill="#2a2f37"/>
<path d="M335.5,305.3 L346.3,305.3 L346.2,301 L336,301 Z" fill="#2a2f37"/>
<ellipse cx="340.5" cy="299.5" rx="2.5" ry="2" fill="#ffffff" transform="rotate(-15 340.5 299.5)"/>
<rect x="301.50" y="327.50" width="45.00" height="28.00" fill="#e4e3dc" stroke="#cfcdc5" stroke-width="0.6"/>
<rect x="304.80" y="326.20" width="37.00" height="4.80" fill="#2e3035" />
<rect x="305.80" y="326.80" width="1.50" height="1.60" fill="#75777b" />
<rect x="308.80" y="326.80" width="1.50" height="1.60" fill="#75777b" />
<rect x="311.80" y="326.80" width="1.50" height="1.60" fill="#75777b" />
<rect x="314.80" y="326.80" width="1.50" height="1.60" fill="#75777b" />
<rect x="317.80" y="326.80" width="1.50" height="1.60" fill="#75777b" />
<rect x="320.80" y="326.80" width="1.50" height="1.60" fill="#75777b" />
<rect x="323.80" y="326.80" width="1.50" height="1.60" fill="#75777b" />
<rect x="326.80" y="326.80" width="1.50" height="1.60" fill="#75777b" />
<rect x="329.80" y="326.80" width="1.50" height="1.60" fill="#75777b" />
<rect x="332.80" y="326.80" width="1.50" height="1.60" fill="#75777b" />
<rect x="335.80" y="326.80" width="1.50" height="1.60" fill="#75777b" />
<rect x="338.80" y="326.80" width="1.50" height="1.60" fill="#75777b" />
<rect x="305.00" y="355.30" width="37.00" height="3.30" fill="#2e3035" />
<rect x="308.30" y="333.00" width="34.50" height="20.80" fill="#2a3454" />
<rect x="312.80" y="335.80" width="10.50" height="3.80" fill="#c2283a" />
<rect x="326.00" y="335.80" width="2.50" height="1.20" fill="#c8c8e0" />
<rect x="328.00" y="338.00" width="12.00" height="0.60" fill="#8890b0" />
<rect x="312.00" y="341.50" width="1.60" height="1.20" fill="#c04050" />
<rect x="312.00" y="344.50" width="1.60" height="1.20" fill="#8a90b0" />
<rect x="314.80" y="341.50" width="1.60" height="1.20" fill="#c04050" />
<rect x="314.80" y="344.50" width="1.60" height="1.20" fill="#8a90b0" />
<rect x="317.60" y="341.50" width="1.60" height="1.20" fill="#c04050" />
<rect x="317.60" y="344.50" width="1.60" height="1.20" fill="#8a90b0" />
<rect x="320.40" y="341.50" width="1.60" height="1.20" fill="#c04050" />
<rect x="320.40" y="344.50" width="1.60" height="1.20" fill="#8a90b0" />
<rect x="323.20" y="341.50" width="1.60" height="1.20" fill="#c04050" />
<rect x="323.20" y="344.50" width="1.60" height="1.20" fill="#8a90b0" />
<rect x="326.00" y="341.50" width="1.60" height="1.20" fill="#c04050" />
<rect x="326.00" y="344.50" width="1.60" height="1.20" fill="#8a90b0" />
<rect x="312.50" y="348.00" width="3.20" height="3.00" fill="#5aa0e0" />
<rect x="317.00" y="348.00" width="3.20" height="3.00" fill="#4ab8d0" />
<rect x="321.50" y="348.00" width="3.20" height="3.00" fill="#40c080" />
<rect x="326.00" y="348.00" width="3.20" height="3.00" fill="#e06040" />
<polyline points="312.50,357.70 312.50,364.50 299.00,364.50 299.00,385.60 322.00,385.60" fill="none" stroke="#8a6a8c" stroke-width="1.5"/>
<polyline points="316.30,357.70 316.30,364.50 344.00,364.50 344.00,385.80 339.00,385.80" fill="none" stroke="#8a6a8c" stroke-width="1.5"/>
<path d="M327.2,376.6 L335.5,379 Q338.8,384.3 335.5,389.7 L327.2,394.2 Z" fill="#454d4a"/>
<ellipse cx="335.8" cy="384.4" rx="1.7" ry="4.6" fill="#a9a5a3"/>
<ellipse cx="327.2" cy="385.4" rx="5.3" ry="8.9" fill="#27322e"/>
<ellipse cx="326.3" cy="385.4" rx="3.5" ry="6.5" fill="#c2c4bc"/>
<ellipse cx="326.8" cy="385.4" rx="2.3" ry="4.3" fill="#6c706a"/>
<ellipse cx="327.0" cy="385.4" rx="1.1" ry="2" fill="#2c302c"/>
<line x1="405.8" y1="320.9" x2="405.8" y2="326.5" stroke="#6c5072" stroke-width="1.1" />
<line x1="422.8" y1="302" x2="422.8" y2="326.5" stroke="#6c5072" stroke-width="1.1" />
<line x1="432.5" y1="305.5" x2="432.5" y2="326.5" stroke="#6c5072" stroke-width="1.1" />
<path d="M401.90000000000003,302.9 L403.90000000000003,297 Q404.3,296.4 405.1,296.3 L423.90000000000003,294.1 Q425.1,294 425.2,295.2 L425.1,299.6 L401.90000000000003,302.9 Z" fill="#ffffff" stroke="#2a2f37" stroke-width="2.2" stroke-linejoin="round"/>
<ellipse cx="434.3" cy="299.8" rx="5.3" ry="5.1" fill="#2a2f37"/>
<path d="M428.8,305.3 L439.6,305.3 L439.5,301 L429.3,301 Z" fill="#2a2f37"/>
<ellipse cx="433.8" cy="299.5" rx="2.5" ry="2" fill="#ffffff" transform="rotate(-15 433.8 299.5)"/>
<rect x="394.80" y="327.50" width="45.00" height="28.00" fill="#e4e3dc" stroke="#cfcdc5" stroke-width="0.6"/>
<rect x="398.10" y="326.20" width="37.00" height="4.80" fill="#2e3035" />
<rect x="399.10" y="326.80" width="1.50" height="1.60" fill="#75777b" />
<rect x="402.10" y="326.80" width="1.50" height="1.60" fill="#75777b" />
<rect x="405.10" y="326.80" width="1.50" height="1.60" fill="#75777b" />
<rect x="408.10" y="326.80" width="1.50" height="1.60" fill="#75777b" />
<rect x="411.10" y="326.80" width="1.50" height="1.60" fill="#75777b" />
<rect x="414.10" y="326.80" width="1.50" height="1.60" fill="#75777b" />
<rect x="417.10" y="326.80" width="1.50" height="1.60" fill="#75777b" />
<rect x="420.10" y="326.80" width="1.50" height="1.60" fill="#75777b" />
<rect x="423.10" y="326.80" width="1.50" height="1.60" fill="#75777b" />
<rect x="426.10" y="326.80" width="1.50" height="1.60" fill="#75777b" />
<rect x="429.10" y="326.80" width="1.50" height="1.60" fill="#75777b" />
<rect x="432.10" y="326.80" width="1.50" height="1.60" fill="#75777b" />
<rect x="398.30" y="355.30" width="37.00" height="3.30" fill="#2e3035" />
<rect x="401.60" y="333.00" width="34.50" height="20.80" fill="#2a3454" />
<rect x="406.10" y="335.80" width="10.50" height="3.80" fill="#c2283a" />
<rect x="419.30" y="335.80" width="2.50" height="1.20" fill="#c8c8e0" />
<rect x="421.30" y="338.00" width="12.00" height="0.60" fill="#8890b0" />
<rect x="405.30" y="341.50" width="1.60" height="1.20" fill="#c04050" />
<rect x="405.30" y="344.50" width="1.60" height="1.20" fill="#8a90b0" />
<rect x="408.10" y="341.50" width="1.60" height="1.20" fill="#c04050" />
<rect x="408.10" y="344.50" width="1.60" height="1.20" fill="#8a90b0" />
<rect x="410.90" y="341.50" width="1.60" height="1.20" fill="#c04050" />
<rect x="410.90" y="344.50" width="1.60" height="1.20" fill="#8a90b0" />
<rect x="413.70" y="341.50" width="1.60" height="1.20" fill="#c04050" />
<rect x="413.70" y="344.50" width="1.60" height="1.20" fill="#8a90b0" />
<rect x="416.50" y="341.50" width="1.60" height="1.20" fill="#c04050" />
<rect x="416.50" y="344.50" width="1.60" height="1.20" fill="#8a90b0" />
<rect x="419.30" y="341.50" width="1.60" height="1.20" fill="#c04050" />
<rect x="419.30" y="344.50" width="1.60" height="1.20" fill="#8a90b0" />
<rect x="405.80" y="348.00" width="3.20" height="3.00" fill="#5aa0e0" />
<rect x="410.30" y="348.00" width="3.20" height="3.00" fill="#4ab8d0" />
<rect x="414.80" y="348.00" width="3.20" height="3.00" fill="#40c080" />
<rect x="419.30" y="348.00" width="3.20" height="3.00" fill="#e06040" />
<polyline points="405.80,357.70 405.80,364.50 392.30,364.50 392.30,385.60 415.30,385.60" fill="none" stroke="#8a6a8c" stroke-width="1.5"/>
<polyline points="409.60,357.70 409.60,364.50 437.30,364.50 437.30,385.80 432.30,385.80" fill="none" stroke="#8a6a8c" stroke-width="1.5"/>
<path d="M420.5,376.6 L428.8,379 Q432.1,384.3 428.8,389.7 L420.5,394.2 Z" fill="#454d4a"/>
<ellipse cx="429.1" cy="384.4" rx="1.7" ry="4.6" fill="#a9a5a3"/>
<ellipse cx="420.5" cy="385.4" rx="5.3" ry="8.9" fill="#27322e"/>
<ellipse cx="419.6" cy="385.4" rx="3.5" ry="6.5" fill="#c2c4bc"/>
<ellipse cx="420.1" cy="385.4" rx="2.3" ry="4.3" fill="#6c706a"/>
<ellipse cx="420.3" cy="385.4" rx="1.1" ry="2" fill="#2c302c"/>
<line x1="490.3" y1="320.9" x2="490.3" y2="326.5" stroke="#6c5072" stroke-width="1.1" />
<line x1="507.3" y1="302" x2="507.3" y2="326.5" stroke="#6c5072" stroke-width="1.1" />
<line x1="517.0" y1="305.5" x2="517.0" y2="326.5" stroke="#6c5072" stroke-width="1.1" />
<path d="M486.40000000000003,302.9 L488.40000000000003,297 Q488.8,296.4 489.6,296.3 L508.40000000000003,294.1 Q509.6,294 509.7,295.2 L509.6,299.6 L486.40000000000003,302.9 Z" fill="#ffffff" stroke="#2a2f37" stroke-width="2.2" stroke-linejoin="round"/>
<ellipse cx="518.8" cy="299.8" rx="5.3" ry="5.1" fill="#2a2f37"/>
<path d="M513.3,305.3 L524.1,305.3 L524.0,301 L513.8,301 Z" fill="#2a2f37"/>
<ellipse cx="518.3" cy="299.5" rx="2.5" ry="2" fill="#ffffff" transform="rotate(-15 518.3 299.5)"/>
<rect x="479.30" y="327.50" width="45.00" height="28.00" fill="#e4e3dc" stroke="#cfcdc5" stroke-width="0.6"/>
<rect x="482.60" y="326.20" width="37.00" height="4.80" fill="#2e3035" />
<rect x="483.60" y="326.80" width="1.50" height="1.60" fill="#75777b" />
<rect x="486.60" y="326.80" width="1.50" height="1.60" fill="#75777b" />
<rect x="489.60" y="326.80" width="1.50" height="1.60" fill="#75777b" />
<rect x="492.60" y="326.80" width="1.50" height="1.60" fill="#75777b" />
<rect x="495.60" y="326.80" width="1.50" height="1.60" fill="#75777b" />
<rect x="498.60" y="326.80" width="1.50" height="1.60" fill="#75777b" />
<rect x="501.60" y="326.80" width="1.50" height="1.60" fill="#75777b" />
<rect x="504.60" y="326.80" width="1.50" height="1.60" fill="#75777b" />
<rect x="507.60" y="326.80" width="1.50" height="1.60" fill="#75777b" />
<rect x="510.60" y="326.80" width="1.50" height="1.60" fill="#75777b" />
<rect x="513.60" y="326.80" width="1.50" height="1.60" fill="#75777b" />
<rect x="516.60" y="326.80" width="1.50" height="1.60" fill="#75777b" />
<rect x="482.80" y="355.30" width="37.00" height="3.30" fill="#2e3035" />
<rect x="486.10" y="333.00" width="34.50" height="20.80" fill="#2a3454" />
<rect x="490.60" y="335.80" width="10.50" height="3.80" fill="#c2283a" />
<rect x="503.80" y="335.80" width="2.50" height="1.20" fill="#c8c8e0" />
<rect x="505.80" y="338.00" width="12.00" height="0.60" fill="#8890b0" />
<rect x="489.80" y="341.50" width="1.60" height="1.20" fill="#c04050" />
<rect x="489.80" y="344.50" width="1.60" height="1.20" fill="#8a90b0" />
<rect x="492.60" y="341.50" width="1.60" height="1.20" fill="#c04050" />
<rect x="492.60" y="344.50" width="1.60" height="1.20" fill="#8a90b0" />
<rect x="495.40" y="341.50" width="1.60" height="1.20" fill="#c04050" />
<rect x="495.40" y="344.50" width="1.60" height="1.20" fill="#8a90b0" />
<rect x="498.20" y="341.50" width="1.60" height="1.20" fill="#c04050" />
<rect x="498.20" y="344.50" width="1.60" height="1.20" fill="#8a90b0" />
<rect x="501.00" y="341.50" width="1.60" height="1.20" fill="#c04050" />
<rect x="501.00" y="344.50" width="1.60" height="1.20" fill="#8a90b0" />
<rect x="503.80" y="341.50" width="1.60" height="1.20" fill="#c04050" />
<rect x="503.80" y="344.50" width="1.60" height="1.20" fill="#8a90b0" />
<rect x="490.30" y="348.00" width="3.20" height="3.00" fill="#5aa0e0" />
<rect x="494.80" y="348.00" width="3.20" height="3.00" fill="#4ab8d0" />
<rect x="499.30" y="348.00" width="3.20" height="3.00" fill="#40c080" />
<rect x="503.80" y="348.00" width="3.20" height="3.00" fill="#e06040" />
<polyline points="490.30,357.70 490.30,364.50 476.80,364.50 476.80,385.60 499.80,385.60" fill="none" stroke="#8a6a8c" stroke-width="1.5"/>
<polyline points="494.10,357.70 494.10,364.50 521.80,364.50 521.80,385.80 516.80,385.80" fill="none" stroke="#8a6a8c" stroke-width="1.5"/>
<path d="M505.0,376.6 L513.3,379 Q516.6,384.3 513.3,389.7 L505.0,394.2 Z" fill="#454d4a"/>
<ellipse cx="513.6" cy="384.4" rx="1.7" ry="4.6" fill="#a9a5a3"/>
<ellipse cx="505.0" cy="385.4" rx="5.3" ry="8.9" fill="#27322e"/>
<ellipse cx="504.1" cy="385.4" rx="3.5" ry="6.5" fill="#c2c4bc"/>
<ellipse cx="504.6" cy="385.4" rx="2.3" ry="4.3" fill="#6c706a"/>
<ellipse cx="504.8" cy="385.4" rx="1.1" ry="2" fill="#2c302c"/>
</g>
</svg></body></html>
